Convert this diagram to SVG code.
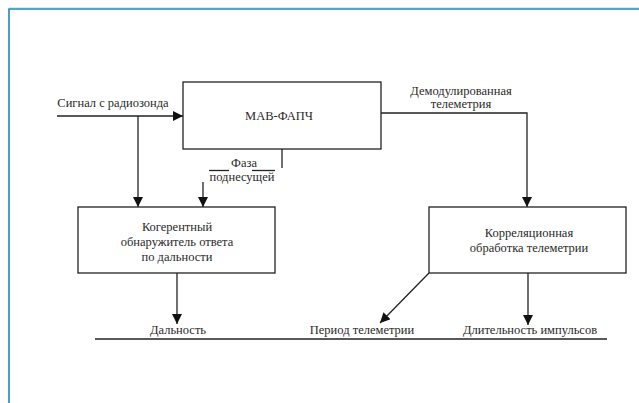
<svg xmlns="http://www.w3.org/2000/svg" width="639" height="403" viewBox="0 0 639 403">
<style>
text{font-family:'Liberation Serif','Times New Roman',serif;font-size:12.5px;fill:#2a2a2a;text-anchor:middle}
.b{fill:#fff;stroke:#222;stroke-width:1.3}
.c{fill:none;stroke:#222;stroke-width:1.3}
</style>
<defs>
<marker id="ah" viewBox="0 0 10 10" refX="10" refY="5" markerWidth="10" markerHeight="10" markerUnits="userSpaceOnUse" orient="auto">
<path d="M0,0 L10,5 L0,10 z" fill="#111"/>
</marker>
</defs>
<rect width="639" height="403" fill="#fff"/>
<line x1="9" y1="7.5" x2="639" y2="7.5" stroke="#e2e6ea" stroke-width="1"/>
<path d="M9,403 V9 H639" fill="none" stroke="#1a8ab8" stroke-width="1.6"/>
<g id="connectors">
<line class="c" x1="57" y1="116" x2="183" y2="116" marker-end="url(#ah)"/>
<line class="c" x1="138" y1="116" x2="138" y2="207" marker-end="url(#ah)"/>
<line class="c" x1="282" y1="149" x2="282" y2="168"/>
<line class="c" x1="203" y1="182" x2="203" y2="207" marker-end="url(#ah)"/>
<line class="c" x1="209" y1="170.5" x2="229" y2="170.5"/>
<line class="c" x1="252" y1="170.5" x2="275" y2="170.5"/>
<polyline class="c" points="381,113 527,113 527,207" marker-end="url(#ah)"/>
<line class="c" x1="177" y1="273" x2="177" y2="324" marker-end="url(#ah)"/>
<line class="c" x1="429" y1="273" x2="380" y2="323" marker-end="url(#ah)"/>
<line class="c" x1="528" y1="273" x2="528" y2="325" marker-end="url(#ah)"/>
<line class="c" x1="95" y1="339" x2="607" y2="339"/>
<text x="113" y="107">Сигнал с радиозонда</text>
<text x="244" y="167">Фаза</text>
<text x="242" y="181">поднесущей</text>
<text x="461" y="95">Демодулированная</text>
<text x="461" y="108">телеметрия</text>
<text x="178" y="334">Дальность</text>
<text x="362" y="334">Период телеметрии</text>
<text x="530" y="334">Длительность импульсов</text>
</g>
<g id="mav">
<rect class="b" x="183" y="82" width="198" height="67"/>
<text x="279" y="120">МАВ-ФАПЧ</text>
</g>
<g id="detector">
<rect class="b" x="78" y="207" width="197" height="66"/>
<text x="177" y="231">Когерентный</text>
<text x="177" y="246">обнаружитель ответа</text>
<text x="177" y="261">по дальности</text>
</g>
<g id="correlation">
<rect class="b" x="429" y="207" width="197" height="66"/>
<text x="529" y="237">Корреляционная</text>
<text x="529" y="252">обработка телеметрии</text>
</g>
</svg>
